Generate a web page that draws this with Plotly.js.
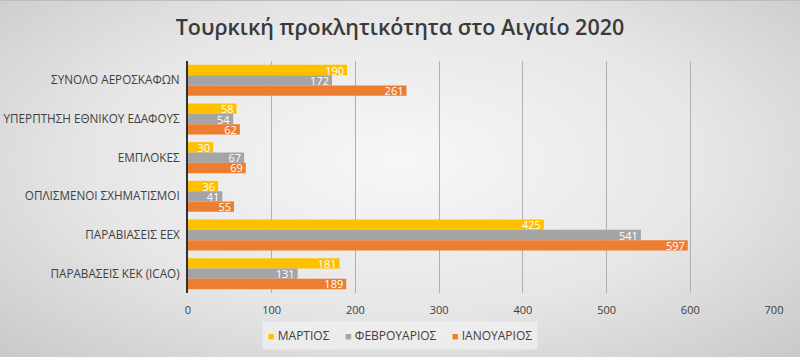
<!DOCTYPE html>
<html>
<head>
<meta charset="utf-8">
<script src="https://cdn.plot.ly/plotly-3.0.1.min.js"></script>
<style>
html,body{margin:0;padding:0;}
#chart{width:800px;height:357px;background:radial-gradient(ellipse at 50% 45%, #f7f7f7 0%, #e6e6e6 55%, #c9c9c9 100%);box-sizing:border-box;border-top:1px solid #bdbdbd;}
</style>
</head>
<body>
<div id="chart"></div>
<script>
var categories = ["ΣΥΝΟΛΟ ΑΕΡΟΣΚΑΦΩΝ","ΥΠΕΡΠΤΗΣΗ ΕΘΝΙΚΟΥ ΕΔΑΦΟΥΣ","ΕΜΠΛΟΚΕΣ","ΟΠΛΙΣΜΕΝΟΙ ΣΧΗΜΑΤΙΣΜΟΙ","ΠΑΡΑΒΙΑΣΕΙΣ ΕΕΧ","ΠΑΡΑΒΑΣΕΙΣ ΚΕΚ (ICAO)"];
var march = [190, 58, 30, 36, 425, 181];
var february = [172, 54, 67, 41, 541, 131];
var january = [261, 62, 69, 55, 597, 189];
var seriesNames = ["ΜΑΡΤΙΟΣ","ΦΕΒΡΟΥΑΡΙΟΣ","ΙΑΝΟΥΑΡΙΟΣ"];
var colors = ["#FFC000","#A5A5A5","#ED7D31"];
var tickVals = [0,100,200,300,400,500,600,700];

var font = "'Open Sans', 'Noto Sans', sans-serif";
var data = [march, february, january].map(function(v, i){
  return {
    type: 'bar', orientation: 'h', name: seriesNames[i],
    x: v, y: categories,
    marker: {color: colors[i]},
    text: v.map(String), textposition: 'inside', insidetextanchor: 'end',
    textfont: {color: '#ffffff', size: 11, family: font},
    textangle: 0, constraintext: 'none',
    hoverinfo: 'x+name', showlegend: false
  };
});

var legendText = seriesNames.map(function(n, i){
  return "<span style='color:" + colors[i] + ";font-size:11px'>■</span> " + n;
}).join("     ");

var layout = {
  width: 800, height: 357,
  paper_bgcolor: 'rgba(0,0,0,0)', plot_bgcolor: 'rgba(0,0,0,0)',
  margin: {l: 188, r: 26, t: 60, b: 65},
  title: {text: 'Τουρκική προκλητικότητα στο Αιγαίο 2020', x: 0.5, xanchor: 'center', y: 0.925, yanchor: 'middle',
    font: {family: font, size: 21.5, color: '#3a3a3a', weight: 600}},
  barmode: 'group', bargap: 0.2, bargroupgap: 0,
  xaxis: {range: [0, 700], tickvals: tickVals, ticktext: tickVals.map(String),
    showgrid: true, gridcolor: '#b0b0b0', gridwidth: 1, zeroline: false,
    showline: false, ticks: '', ticklabelstandoff: 9, tickfont: {family: font, size: 11, color: '#404040'}},
  yaxis: {autorange: 'reversed', showline: true, linecolor: '#303030', linewidth: 2,
    ticks: '', ticklen: 0, ticklabelstandoff: 4, tickfont: {family: font, size: 11.7, color: '#404040'}, automargin: false},
  showlegend: false,
  annotations: [{
    xref: 'paper', yref: 'paper', x: (400 - 188) / (800 - 188 - 26), y: -(334 - 292) / 232, xanchor: 'center', yanchor: 'middle',
    text: legendText, showarrow: false, align: 'center',
    font: {family: font, size: 12, color: '#404040'},
    bgcolor: 'rgba(240,240,240,0.75)', borderpad: 5
  }]
};
Plotly.newPlot('chart', data, layout, {displayModeBar: false, staticPlot: true});
</script>
</body>
</html>
